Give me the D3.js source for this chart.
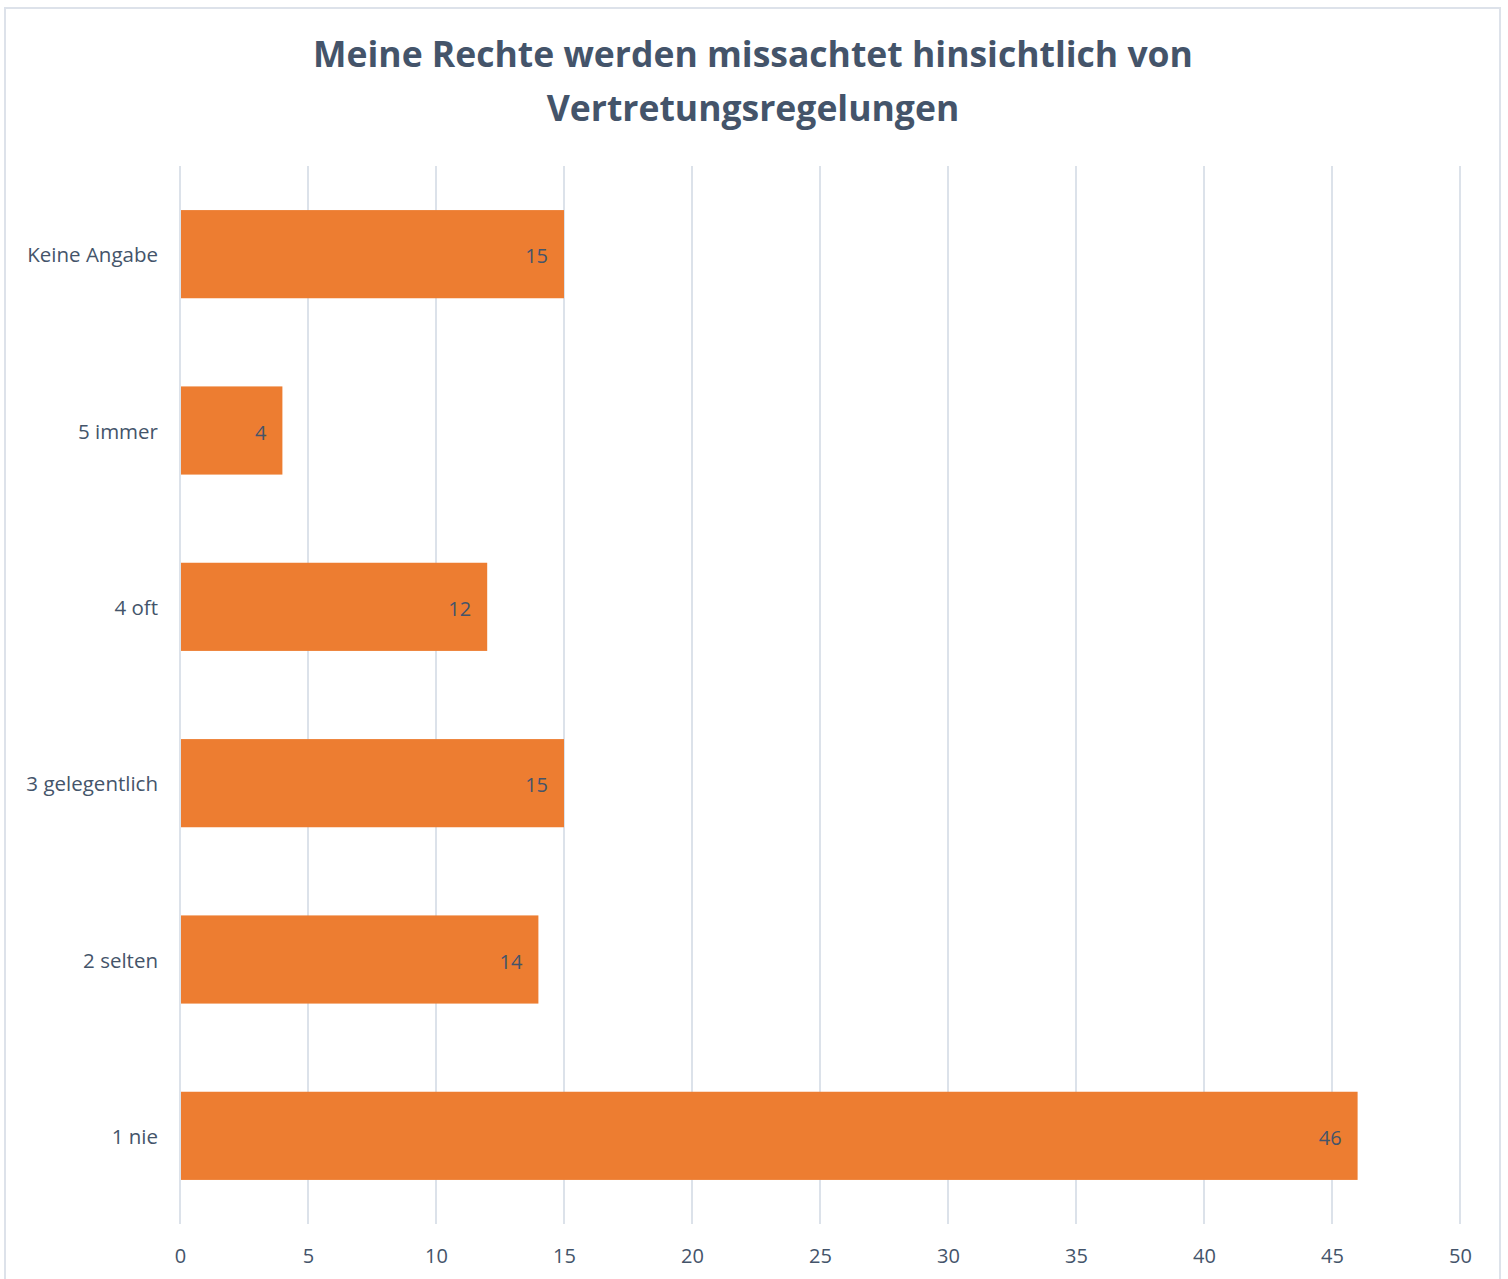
<!DOCTYPE html>
<html lang="de">
<head>
<meta charset="UTF-8">
<title>Vertretungsregelungen</title>
<script src="https://cdn.jsdelivr.net/npm/d3@7"></script>
<style>
  body { margin: 0; background: #fff; }
  text { font-family: "Open Sans", "Noto Sans", sans-serif; fill: #44546a; }
</style>
</head>
<body>
<div id="chart"></div>
<script>
// data, top to bottom as drawn
var categories = ["Keine Angabe", "5 immer", "4 oft", "3 gelegentlich", "2 selten", "1 nie"];
var counts = [15, 4, 12, 15, 14, 46];
var xTicks = [0, 5, 10, 15, 20, 25, 30, 35, 40, 45, 50];
var titleLines = ["Meine Rechte werden missachtet hinsichtlich von", "Vertretungsregelungen"];

var width = 1508,
    height = 1279,
    plotLeft = 180,
    plotRight = 1460,
    plotTop = 166,
    plotBottom = 1224;

var svg = d3.select("#chart").append("svg")
    .attr("width", width)
    .attr("height", height);

// chart frame
svg.append("rect")
    .attr("x", 5).attr("y", 8)
    .attr("width", 1495).attr("height", 1290)
    .attr("fill", "none")
    .attr("stroke", "#dde2ea")
    .attr("stroke-width", 2);

svg.selectAll(".title")
    .data(titleLines)
    .enter().append("text")
    .attr("class", "title")
    .attr("x", 753)
    .attr("y", function(d, i) { return 67 + i * 54; })
    .attr("text-anchor", "middle")
    .style("font-size", "35.5px")
    .style("font-weight", "bold")
    .text(function(d) { return d; });

var x = d3.scaleLinear().domain([0, 50]).range([plotLeft, plotRight]);
var y = d3.scaleBand().domain(categories).range([plotTop, plotBottom]).paddingInner(0.5).paddingOuter(0.25);

// gridlines
svg.append("g")
    .selectAll("line")
    .data(xTicks)
    .enter().append("line")
    .attr("x1", function(d) { return x(d); })
    .attr("x2", function(d) { return x(d); })
    .attr("y1", plotTop)
    .attr("y2", plotBottom)
    .attr("stroke", "#dce2ea")
    .attr("stroke-width", 2);

// x axis labels
var xAxis = svg.append("g")
    .attr("transform", "translate(0," + plotBottom + ")")
    .call(d3.axisBottom(x).tickValues(xTicks).tickSize(0).tickPadding(25));
xAxis.select(".domain").remove();
xAxis.selectAll("text").style("font-size", "20px").attr("fill", "#44546a");

// y axis labels
var yAxis = svg.append("g")
    .attr("transform", "translate(" + plotLeft + ",0)")
    .call(d3.axisLeft(y).tickSize(0).tickPadding(22));
yAxis.select(".domain").remove();
yAxis.selectAll("text").style("font-size", "20.5px").attr("fill", "#44546a").attr("dy", "0.4em");

// bars
svg.append("g")
    .selectAll("rect")
    .data(counts)
    .enter().append("rect")
    .attr("x", x(0) + 1)
    .attr("y", function(d, i) { return y(categories[i]); })
    .attr("width", function(d) { return x(d) - x(0) - 1; })
    .attr("height", y.bandwidth())
    .attr("fill", "#ed7d31");

// value labels
svg.append("g")
    .selectAll("text")
    .data(counts)
    .enter().append("text")
    .attr("x", function(d) { return x(d) - 16; })
    .attr("y", function(d, i) { return y(categories[i]) + y.bandwidth() / 2 + 2; })
    .attr("dy", "0.35em")
    .attr("text-anchor", "end")
    .style("font-size", "20px")
    .text(function(d) { return d; });
</script>
</body>
</html>
